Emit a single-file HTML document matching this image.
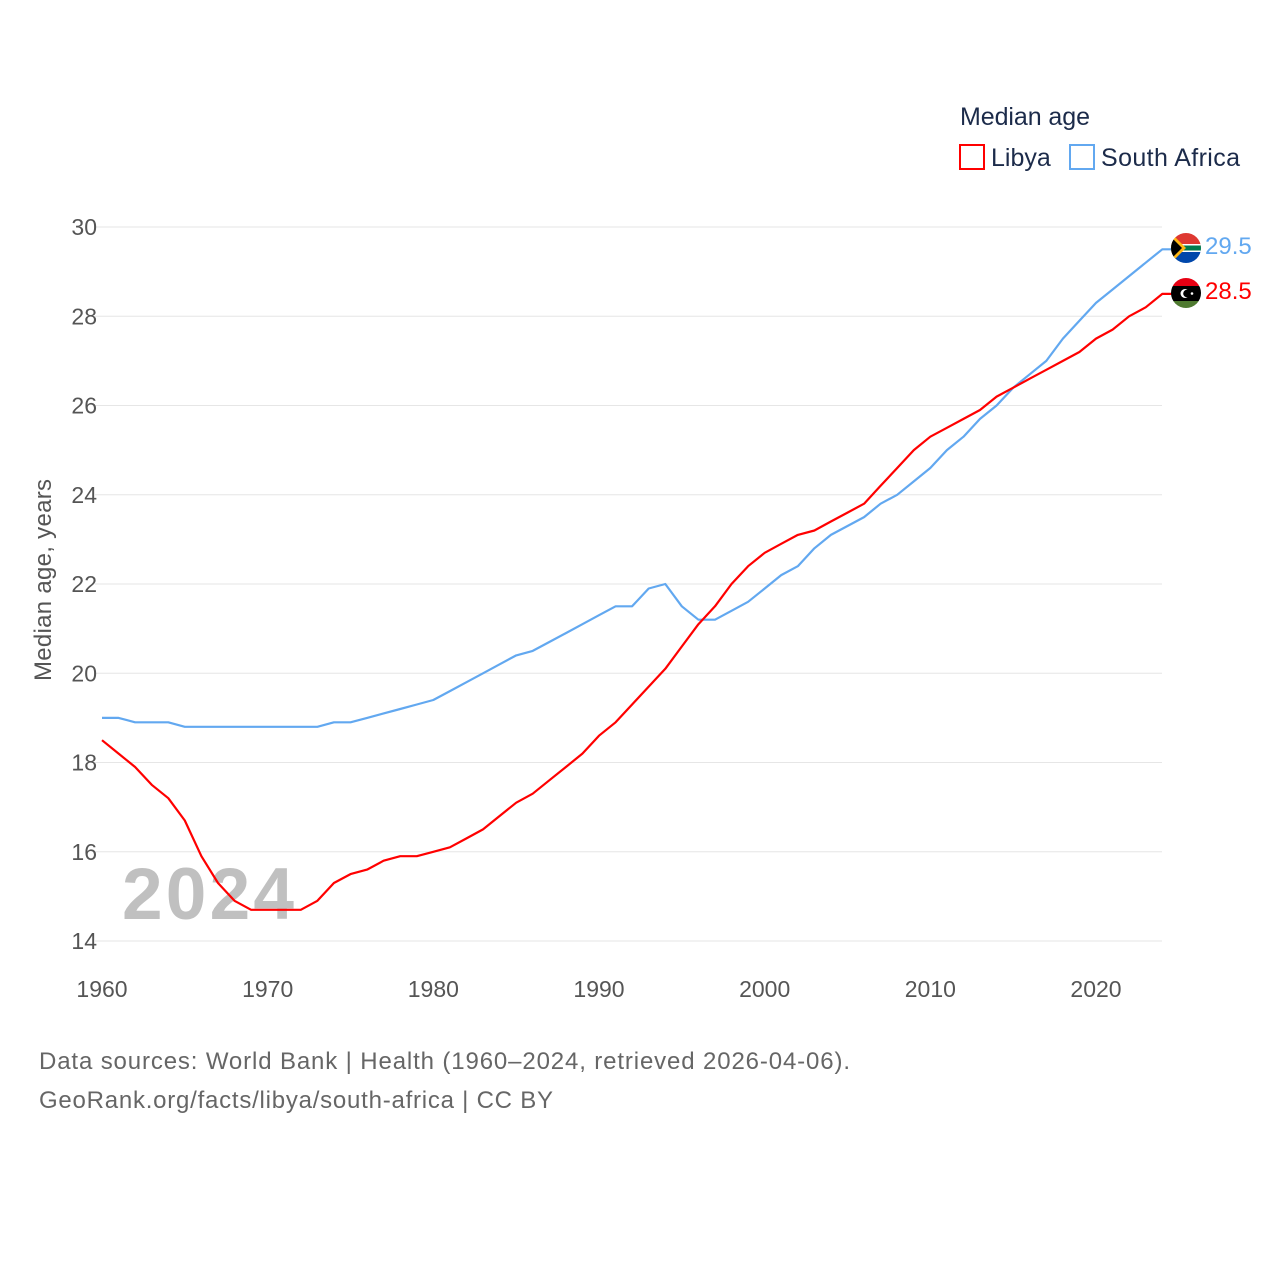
<!DOCTYPE html>
<html><head><meta charset="utf-8"><style>
body{margin:0;background:#fff;font-family:"Liberation Sans",sans-serif}
svg{display:block}
</style></head><body>
<svg id="c" width="1280" height="1280" viewBox="0 0 1280 1280">
<text x="960" y="125" font-size="25" fill="#1c2b4a" textLength="130">Median age</text>
<g><rect x="960" y="145" width="24" height="24" fill="none" stroke="#ff0000" stroke-width="2"/><text x="991" y="166" font-size="25" fill="#1c2b4a">Libya</text></g>
<g><rect x="1070" y="145" width="24" height="24" fill="none" stroke="#62a8f0" stroke-width="2"/><text x="1101" y="166" font-size="25" fill="#1c2b4a" textLength="139">South Africa</text></g>
<g id="grid"></g>
<text x="122" y="919" font-size="73" font-weight="bold" fill="#c0c0c0" textLength="172">2024</text>
<text transform="translate(51,580) rotate(-90)" text-anchor="middle" font-size="24" fill="#555" textLength="202">Median age, years</text>
<g id="lines"></g>
<g>
<clipPath id="cz"><circle cx="1186" cy="248" r="15"/></clipPath>
<g clip-path="url(#cz)"><rect x="1170" y="232" width="32" height="16" fill="#de3831"/><rect x="1170" y="248" width="32" height="16" fill="#0047ab"/><rect x="1170" y="244" width="32" height="8" fill="#fff"/><rect x="1170" y="245.5" width="32" height="5" fill="#007a4d"/><polygon points="1170,232 1186,248 1170,264" fill="#ffb612"/><polygon points="1170,236 1182,248 1170,260" fill="#000"/></g></g>
<g>
<clipPath id="cl"><circle cx="1186" cy="293" r="15"/></clipPath>
<g clip-path="url(#cl)"><rect x="1170" y="277" width="32" height="9" fill="#e70013"/><rect x="1170" y="286" width="32" height="15" fill="#000"/><rect x="1170" y="301" width="32" height="9" fill="#4f7a30"/><circle cx="1185" cy="293.5" r="4.5" fill="#fff"/><circle cx="1187" cy="293.5" r="3.8" fill="#000"/><circle cx="1192" cy="293.5" r="1.3" fill="#fff"/></g></g>
<text x="1205" y="254" font-size="24" fill="#62a8f0">29.5</text>
<text x="1205" y="299" font-size="24" fill="#ff0000">28.5</text>
<text x="39" y="1069" font-size="24" fill="#666" textLength="811">Data sources: World Bank | Health (1960–2024, retrieved 2026-04-06).</text>
<text x="39" y="1108" font-size="24" fill="#666" textLength="514">GeoRank.org/facts/libya/south-africa | CC BY</text>
</svg>
<script>
const years=[];for(let y=1960;y<=2024;y++)years.push(y);
const libya=[18.5,18.2,17.9,17.5,17.2,16.7,15.9,15.3,14.9,14.7,14.7,14.7,14.7,14.9,15.3,15.5,15.6,15.8,15.9,15.9,16.0,16.1,16.3,16.5,16.8,17.1,17.3,17.6,17.9,18.2,18.6,18.9,19.3,19.7,20.1,20.6,21.1,21.5,22.0,22.4,22.7,22.9,23.1,23.2,23.4,23.6,23.8,24.2,24.6,25.0,25.3,25.5,25.7,25.9,26.2,26.4,26.6,26.8,27.0,27.2,27.5,27.7,28.0,28.2,28.5];
const southAfrica=[19.0,19.0,18.9,18.9,18.9,18.8,18.8,18.8,18.8,18.8,18.8,18.8,18.8,18.8,18.9,18.9,19.0,19.1,19.2,19.3,19.4,19.6,19.8,20.0,20.2,20.4,20.5,20.7,20.9,21.1,21.3,21.5,21.5,21.9,22.0,21.5,21.2,21.2,21.4,21.6,21.9,22.2,22.4,22.8,23.1,23.3,23.5,23.8,24.0,24.3,24.6,25.0,25.3,25.7,26.0,26.4,26.7,27.0,27.5,27.9,28.3,28.6,28.9,29.2,29.5];
const yTicks=[14,16,18,20,22,24,26,28,30];
const xTicks=[1960,1970,1980,1990,2000,2010,2020];
const NS="http://www.w3.org/2000/svg";
const X=y=>102+(y-1960)*(994/60);
const Y=v=>941-(v-14)*(714/16);
const grid=document.getElementById('grid'),lines=document.getElementById('lines');
function mk(tag,attrs,parent){const e=document.createElementNS(NS,tag);for(const k in attrs)e.setAttribute(k,attrs[k]);parent.appendChild(e);return e;}
yTicks.forEach(t=>{
 const l=mk('line',{x1:95,x2:1162,y1:Y(t),y2:Y(t),stroke:'#e6e6e6','stroke-width':1},grid);
 
 
 const tx=mk('text',{x:97,y:Y(t)+8,'text-anchor':'end','font-size':23,fill:'#555'},grid);
 tx.textContent=t;
 
 
});
xTicks.forEach(t=>{
 const tx=mk('text',{x:X(t),y:997,'text-anchor':'middle','font-size':23,fill:'#555'},grid);
 tx.textContent=t;
 
 
});
function series(vals,color,name,endX){
 let d=vals.map((v,i)=>(i?'L':'M')+X(years[i]).toFixed(1)+','+Y(v).toFixed(1)).join('');
 d+='L'+endX+','+Y(vals[vals.length-1]).toFixed(1);
 const p=mk('path',{d:d,fill:'none',stroke:color,'stroke-width':2.2,'stroke-linejoin':'round'},lines);
 
 
}
series(southAfrica,'#62a8f0','line-south-africa',1172);
series(libya,'#ff0000','line-libya',1172);
</script>
</body></html>
